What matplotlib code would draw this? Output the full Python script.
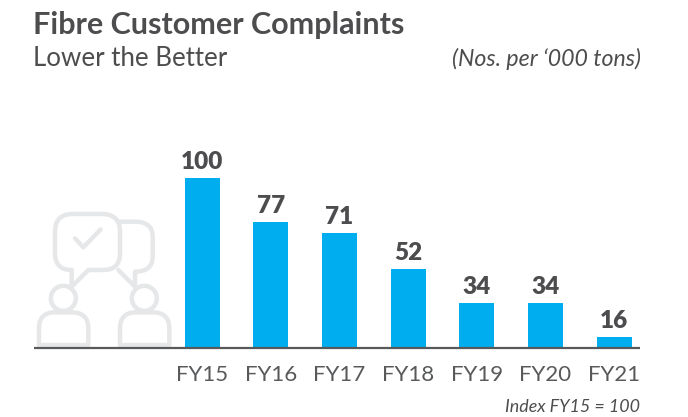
import matplotlib
matplotlib.use("Agg")
import matplotlib.pyplot as plt
from matplotlib.patches import PathPatch, Circle
from matplotlib.path import Path

categories = ["FY15", "FY16", "FY17", "FY18", "FY19", "FY20", "FY21"]
values = [100, 77, 71, 52, 34, 34, 16]

W, H = 688, 417
BLUE = "#00aeef"
DARK = "#4d4d4f"
ICON = "#e6e7e8"
plt.rcParams["font.family"] = ["Lato", "DejaVu Sans"]

fig = plt.figure(figsize=(W / 100, H / 100), dpi=100)

# chart axes: baseline at y=348 px, value axis truncated near 10
x0, x1, ybase = 34, 640, 348
top = 100
ax = fig.add_axes([x0 / W, 1 - ybase / H, (x1 - x0) / W, (ybase - top) / H])
step = 68.67
ymin = 10.2
ppu = 1.893
ax.set_xlim(-(202.2 - x0) / step, 6 + (x1 - 614.2) / step)
ax.set_ylim(ymin, ymin + (ybase - top) / ppu)
bars = ax.bar(range(len(values)), values, width=35 / step, color=BLUE, zorder=2)
for i, v in enumerate(values):
    ax.annotate(str(v), (i, v), xytext=(0, 3.5), textcoords="offset points", ha="center",
                va="bottom", fontsize=17.5, fontweight="heavy", color=DARK)
for s in ["top", "left", "right"]:
    ax.spines[s].set_visible(False)
ax.spines["bottom"].set_color("#58595b")
ax.spines["bottom"].set_linewidth(1.6)
ax.spines["bottom"].set_capstyle("butt")
ax.spines["bottom"].set_zorder(3)
ax.set_yticks([])
ax.set_xticks(range(len(categories)), categories)
ax.tick_params(axis="x", length=0, pad=12, labelsize=16, labelcolor="#58595b")
ax.patch.set_alpha(0)

# overlay in pixel coordinates for icon
ov = fig.add_axes([0, 0, 1, 1], zorder=-1)
ov.set_xlim(0, W)
ov.set_ylim(H, 0)
ov.axis("off")
def z(x, y):
    return (20 + x / 3, 190 + y / 3)
def stroke(points, codes=None):
    verts = [z(*p) for p in points]
    ov.add_patch(PathPatch(Path(verts, codes), fc="none", ec=ICON, lw=3.2, joinstyle="round", capstyle="round"))
M, L, C = Path.MOVETO, Path.LINETO, Path.CURVE3
# front bubble
stroke([(155, 240), (105, 240), (105, 190), (105, 125), (105, 72), (158, 72), (245, 72), (300, 72), (300, 125),
        (300, 190), (300, 240), (250, 240), (205, 240), (155, 290), (155, 240)],
       [M, C, C, L, C, C, L, C, C, L, C, C, L, L, L])
# back bubble
stroke([(300, 95), (345, 95), (398, 95), (398, 140), (398, 200), (398, 245), (345, 245), (345, 290), (295, 240)],
       [M, L, C, C, L, C, C, L, L])
# check mark
stroke([(165, 145), (190, 172), (242, 118)])
# people
for dx in (0, 243):
    cx, cy = z(130 + dx, 325)
    ov.add_patch(Circle((cx, cy), 12.5, fc="none", ec=ICON, lw=3.2))
    stroke([(57 + dx, 465), (57 + dx, 415), (57 + dx, 367), (105 + dx, 367), (155 + dx, 367), (205 + dx, 367),
            (205 + dx, 415), (205 + dx, 465), (57 + dx, 465)],
           [M, L, C, C, L, C, C, L, L])

def t(x, y, s, **k):
    fig.text(x / W, 1 - y / H, s, **k)
t(33, 34, "Fibre Customer Complaints", fontsize=22, fontweight="bold", color=DARK, va="baseline")
t(33, 66, "Lower the Better", fontsize=18.6, color=DARK, va="baseline")
t(641, 66, "(Nos. per \u2018000 tons)", fontsize=16.7, style="italic", color=DARK, ha="right", va="baseline")
t(640, 412, "Index FY15 = 100", fontsize=12.9, style="italic", color=DARK, ha="right", va="baseline")

fig.savefig("out.png", dpi=100)
